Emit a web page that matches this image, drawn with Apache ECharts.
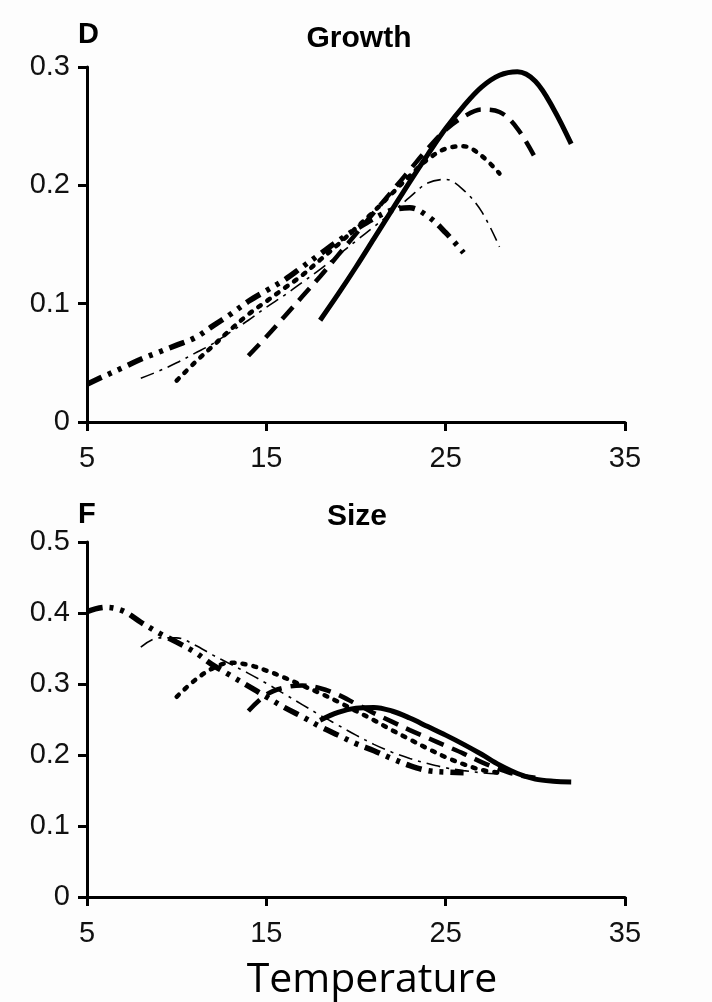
<!DOCTYPE html>
<html>
<head>
<meta charset="utf-8">
<script src="https://cdn.jsdelivr.net/npm/echarts@6/dist/echarts.min.js"></script>
<style>
html,body{margin:0;padding:0;background:#fdfdfd;}
#chart{width:712px;height:1002px;}
</style>
</head>
<body>
<div id="chart"></div>
<script>
// X tick values (temperature)
const xTicks = [5, 15, 25, 35];
const growthTicks = [0, 0.1, 0.2, 0.3];
const sizeTicks = [0, 0.1, 0.2, 0.3, 0.4, 0.5];

// Temperatures for each series
const tempSolid   = [18,19,20,21,22,23,24,25,26,27,28,29,30,31,32];
const tempDashed  = [14,15,16,17,18,19,20,21,22,23,24,25,26,27,28,29,30];
const tempDotted  = [10,11,12,13,14,15,16,17,18,19,20,21,22,23,24,25,26,27,28];
const tempThinDD  = [8,9,10,11,12,13,14,15,16,17,18,19,20,21,22,23,24,25,26,27,28];
const tempThickDD = [5,6,7,8,9,10,11,12,13,14,15,16,17,18,19,20,21,22,23,24,25,26];

// Panel D: Growth
const growthSolid   = [0.086,0.108,0.131,0.155,0.179,0.203,0.226,0.248,0.267,0.283,0.293,0.296,0.288,0.265,0.235];
const growthDashed  = [0.056,0.072,0.089,0.106,0.123,0.141,0.159,0.177,0.195,0.213,0.231,0.247,0.258,0.264,0.262,0.248,0.223];
const growthDotted  = [0.035,0.050,0.064,0.078,0.091,0.102,0.113,0.124,0.137,0.150,0.164,0.178,0.193,0.208,0.222,0.231,0.233,0.225,0.210];
const growthThinDD  = [0.037,0.043,0.050,0.058,0.066,0.076,0.086,0.097,0.107,0.118,0.129,0.141,0.153,0.165,0.177,0.190,0.202,0.205,0.196,0.178,0.148];
const growthThickDD = [0.032,0.039,0.046,0.053,0.059,0.065,0.071,0.081,0.091,0.102,0.111,0.120,0.131,0.142,0.153,0.163,0.172,0.179,0.181,0.174,0.160,0.143];

// Panel F: Size
const sizeSolid   = [0.249,0.260,0.266,0.267,0.262,0.252,0.240,0.228,0.215,0.201,0.186,0.174,0.166,0.163,0.162];
const sizeDashed  = [0.262,0.285,0.295,0.298,0.294,0.285,0.272,0.259,0.247,0.235,0.224,0.213,0.202,0.190,0.180,0.172,0.168];
const sizeDotted  = [0.282,0.305,0.322,0.330,0.327,0.319,0.309,0.298,0.287,0.275,0.262,0.249,0.235,0.222,0.209,0.197,0.187,0.179,0.175];
const sizeThinDD  = [0.352,0.365,0.365,0.355,0.341,0.328,0.315,0.301,0.286,0.271,0.256,0.242,0.228,0.215,0.204,0.195,0.188,0.182,0.178,0.175,0.173];
const sizeThickDD = [0.402,0.408,0.403,0.387,0.372,0.359,0.345,0.327,0.312,0.297,0.282,0.267,0.254,0.240,0.228,0.216,0.206,0.195,0.185,0.178,0.176,0.175];

function zip(xs, ys){ return xs.map((x,i)=>[x, ys[i]]); }

const styles = {
  solid:   {width:5,   type:'solid', cap:'butt'},
  dashed:  {width:4.5, type:[16,9], cap:'butt'},
  dotted:  {width:4.5, type:[3,8], cap:'round'},
  thinDD:  {width:1.6, type:[14,6,3,6], cap:'butt'},
  thickDD: {width:5.5, type:[16,7,4,7,4,7], cap:'butt'}
};

function line(name, xi, yi, temps, vals, st){
  return {
    name, type:'line', xAxisIndex:xi, yAxisIndex:yi,
    data: zip(temps, vals), showSymbol:false, smooth:0.35,
    lineStyle: Object.assign({color:'#000'}, st), silent:true, z:3
  };
}

const axisCommon = {
  axisLine:{show:true, onZero:false, lineStyle:{color:'#000', width:3}},
  axisTick:{show:true, length:9, lineStyle:{color:'#000', width:3}},
  splitLine:{show:false},
  axisLabel:{color:'#111', fontFamily:'Liberation Sans', fontSize:29}
};

function xAx(gi){
  return Object.assign({}, axisCommon, {
    type:'value', gridIndex:gi, min:xTicks[0], max:xTicks[xTicks.length-1], interval:10,
    axisLabel:Object.assign({}, axisCommon.axisLabel, {margin:22})
  });
}
function yAx(gi, ticks){
  return Object.assign({}, axisCommon, {
    type:'value', gridIndex:gi, min:ticks[0], max:ticks[ticks.length-1], interval:0.1,
    axisLabel:Object.assign({}, axisCommon.axisLabel, {margin:17,
      formatter:(v)=> (Math.round(v*10)/10).toString()})
  });
}

const chart = echarts.init(document.getElementById('chart'), null, {renderer:'canvas'});
chart.setOption({
  backgroundColor:'#fdfdfd',
  animation:false,
  grid:[
    {left:87, right:87, top:67, height:355},
    {left:87, right:87, top:542, height:355}
  ],
  xAxis:[xAx(0), xAx(1)],
  yAxis:[yAx(0, growthTicks), yAx(1, sizeTicks)],
  graphic:[
    {type:'text', left:78, top:20, style:{text:'D', font:'bold 29px "Liberation Sans"', fill:'#000'}},
    {type:'text', x:359, y:39, style:{text:'Growth', font:'bold 30px "Liberation Sans"', fill:'#000', textAlign:'center', textVerticalAlign:'middle'}},
    {type:'text', left:78, top:500, style:{text:'F', font:'bold 29px "Liberation Sans"', fill:'#000'}},
    {type:'text', x:357, y:517, style:{text:'Size', font:'bold 30px "Liberation Sans"', fill:'#000', textAlign:'center', textVerticalAlign:'middle'}},
    {type:'text', x:372, y:980, style:{text:'Temperature', font:'41px "Open Sans"', fill:'#000', textAlign:'center', textVerticalAlign:'middle'}}
  ],
  series:[
    line('Growth solid',0,0,tempSolid,growthSolid,styles.solid),
    line('Growth dashed',0,0,tempDashed,growthDashed,styles.dashed),
    line('Growth dotted',0,0,tempDotted,growthDotted,styles.dotted),
    line('Growth thin dash-dot',0,0,tempThinDD,growthThinDD,styles.thinDD),
    line('Growth thick dash-dot-dot',0,0,tempThickDD,growthThickDD,styles.thickDD),
    line('Size solid',1,1,tempSolid,sizeSolid,styles.solid),
    line('Size dashed',1,1,tempDashed,sizeDashed,styles.dashed),
    line('Size dotted',1,1,tempDotted,sizeDotted,styles.dotted),
    line('Size thin dash-dot',1,1,tempThinDD,sizeThinDD,styles.thinDD),
    line('Size thick dash-dot-dot',1,1,tempThickDD,sizeThickDD,styles.thickDD)
  ]
});
</script>
</body>
</html>
